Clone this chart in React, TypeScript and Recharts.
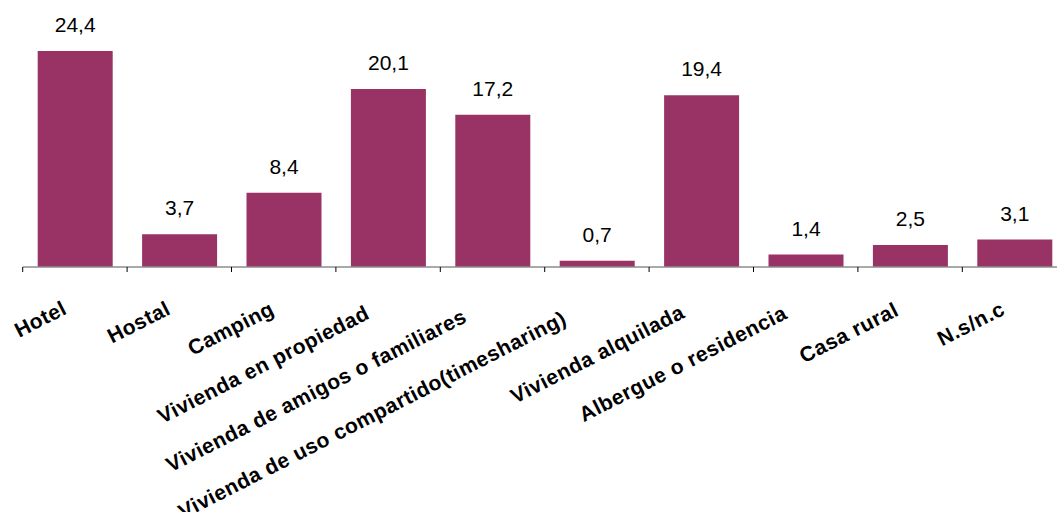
import { BarChart, Bar, XAxis, YAxis, LabelList } from "recharts";

const categories = [
  "Hotel",
  "Hostal",
  "Camping",
  "Vivienda en propiedad",
  "Vivienda de amigos  o familiares",
  "Vivienda de uso compartido(timesharing)",
  "Vivienda alquilada",
  "Albergue o residencia",
  "Casa rural",
  "N.s/n.c",
];
const values = [24.4, 3.7, 8.4, 20.1, 17.2, 0.7, 19.4, 1.4, 2.5, 3.1];

const data = categories.map((name, i) => ({ name, value: values[i] }));

const BAND = 104.4;
const ANGLE = 27;
const FONT = "'Liberation Sans', Arial, sans-serif";

// rotated labels end a little further back the longer they are
const CategoryTick = (props: any) => {
  const { x, y, payload } = props;
  const n = String(payload.value).length;
  const tx = x - 3.5 - 0.65 * n;
  const ty = y + 44.5 + 0.3 * n;
  return (
    <g>
      <line x1={x - BAND / 2} y1={y} x2={x - BAND / 2} y2={y + 5} stroke="#000" strokeWidth={1} />
      <text
        x={tx}
        y={ty}
        textAnchor="end"
        transform={`rotate(-${ANGLE} ${tx} ${ty})`}
        fontFamily={FONT}
        fontWeight="bold"
        fontSize={21}
        letterSpacing={0.5}
        fill="#000"
      >
        {payload.value}
      </text>
    </g>
  );
};

const ValueLabel = (props: any) => {
  const { x, y, width, value } = props;
  return (
    <text x={x + width / 2} y={y - 19} textAnchor="middle" fontFamily={FONT} fontSize={21} fill="#000">
      {String(value).replace(".", ",")}
    </text>
  );
};

export default function App() {
  return (
    <div style={{ position: "absolute", left: 0, top: 0, width: 1057, height: 512, overflow: "hidden", background: "#fff" }}>
      <BarChart
        width={1080}
        height={512}
        data={data}
        margin={{ top: 1.5, right: 13.3, left: 22.7, bottom: 0 }}
        barSize={75}
      >
        <XAxis
          dataKey="name"
          interval={0}
          height={245}
          tickSize={0}
          tickMargin={0}
          tickLine={false}
          axisLine={{ stroke: "#8c8c8c", strokeWidth: 1.5 }}
          tick={<CategoryTick />}
        />
        <YAxis hide domain={[0, 30]} />
        <Bar dataKey="value" fill="#993366" isAnimationActive={false}>
          <LabelList dataKey="value" content={<ValueLabel />} />
        </Bar>
      </BarChart>
    </div>
  );
}
